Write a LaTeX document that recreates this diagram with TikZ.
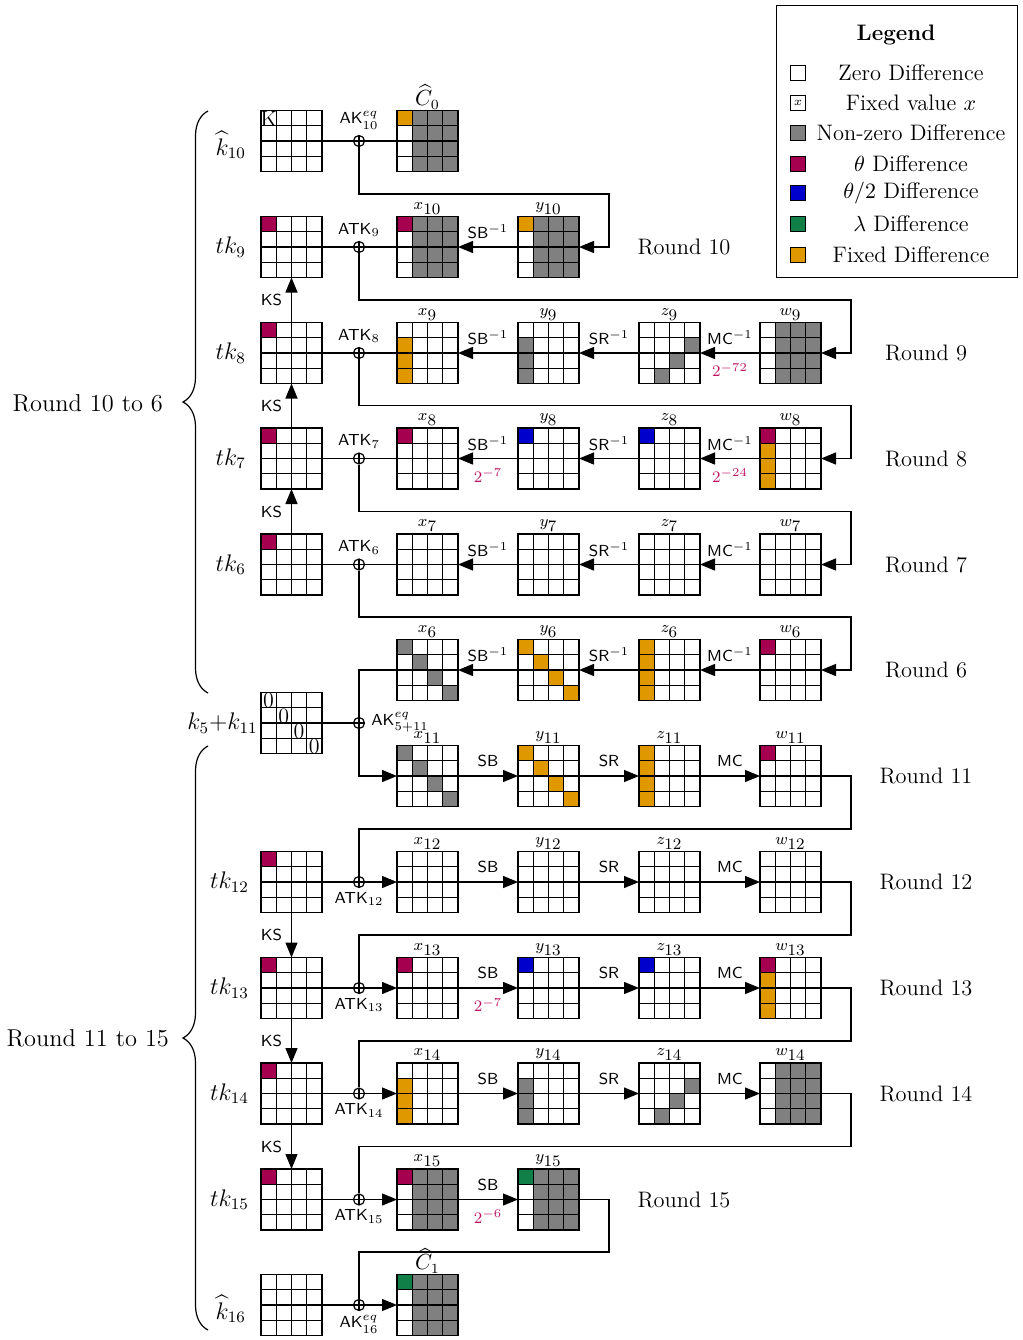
\documentclass[tikz,border=0pt]{standalone}
\usepackage{amsmath}
\usetikzlibrary{calc,arrows.meta,decorations.pathreplacing}
\definecolor{thetac}{RGB}{165,0,80}
\definecolor{halfc}{RGB}{0,0,205}
\definecolor{lamc}{RGB}{16,128,72}
\definecolor{fixc}{RGB}{224,152,0}
\definecolor{nzc}{RGB}{128,128,128}
\definecolor{probc}{RGB}{190,20,100}
\def\cs{15.25}
\newcommand\cellf[4]{\fill[#4] ($(#1.north west)+(#3*\cs,#2*\cs)$) rectangle ++(\cs,\cs);}
\newcommand\graycols[1]{\foreach \ri in {0,...,3}{\foreach \ci in {1,2,3}{\cellf{#1}{\ri}{\ci}{nzc}}}}
\newcommand\colz[2]{\foreach \ri in {1,2,3}{\cellf{#1}{\ri}{0}{#2}}}
\newcommand\colall[2]{\foreach \ri in {0,...,3}{\cellf{#1}{\ri}{0}{#2}}}
\newcommand\diagc[2]{\foreach \ri in {0,...,3}{\cellf{#1}{\ri}{\ri}{#2}}}
\newcommand\antid[1]{\cellf{#1}{1}{3}{nzc}\cellf{#1}{2}{2}{nzc}\cellf{#1}{3}{1}{nzc}}
\newcommand\gridon[1]{\foreach \gi in {0,...,4}{\draw[gridl] ($(#1.north west)+(\gi*\cs,0)$) -- ++(0,4*\cs); \draw[gridl] ($(#1.north west)+(0,\gi*\cs)$) -- ++(4*\cs,0);}}
\newcommand\cl[2]{$#1_{\textstyle #2}$}
\begin{document}
\begin{tikzpicture}[x=0.5pt,y=-0.5pt,
 matbox/.style={draw=none,fill=white,minimum size=30.5pt,inner sep=0pt,outer sep=0pt},
 gridl/.style={line width=0.65pt,black,line cap=rect},
 cline/.style={line width=0.65pt,black},
 arr/.style={cline,-{Triangle[length=7.5pt,width=6pt]}},
 xorc/.style={circle,draw,line width=0.6pt,minimum size=5.5pt,inner sep=0pt,fill=white,
   path picture={\draw[line width=0.6pt] (path picture bounding box.north) -- (path picture bounding box.south) (path picture bounding box.west) -- (path picture bounding box.east);}},
 oplab/.style={font=\fontsize{8}{9}\sffamily,inner sep=0pt},
 problab/.style={font=\fontsize{8.5}{10}\selectfont,text=probc,inner sep=0pt},
 collab/.style={font=\fontsize{8}{9}\selectfont,inner sep=1pt},
 hatlab/.style={font=\fontsize{10.5}{12}\selectfont,inner sep=0.5pt},
 keylab/.style={font=\fontsize{11.5}{13}\selectfont},
 rlab/.style={font=\fontsize{11.2}{13}\selectfont},
 blab/.style={font=\fontsize{12.2}{14}\selectfont},
 legsq/.style={draw,line width=0.5pt,minimum size=7.5pt,inner sep=0pt},
 brc/.style={decorate,decoration={brace,amplitude=12.5pt},line width=0.6pt},
]
\useasboundingbox (0,0) rectangle (1023,1340);
% ---------- matrices ----------
\node[matbox] (k10) at (291.5,141) {};
\node[matbox,label={[hatlab]above:$\widehat{C}_0$}] (C0) at (427.5,141) {};
\node[matbox] (tk9) at (291.5,247) {};
\node[matbox,label={[collab]above:\cl{x}{10}}] (x10) at (427.5,247) {};
\node[matbox,label={[collab]above:\cl{y}{10}}] (y10) at (548.5,247) {};
\node[matbox] (tk8) at (291.5,353) {};
\node[matbox,label={[collab]above:\cl{x}{9}}] (x9) at (427.5,353) {};
\node[matbox,label={[collab]above:\cl{y}{9}}] (y9) at (548.5,353) {};
\node[matbox,label={[collab]above:\cl{z}{9}}] (z9) at (669.5,353) {};
\node[matbox,label={[collab]above:\cl{w}{9}}] (w9) at (790.5,353) {};
\node[matbox] (tk7) at (291.5,458.5) {};
\node[matbox,label={[collab]above:\cl{x}{8}}] (x8) at (427.5,458.5) {};
\node[matbox,label={[collab]above:\cl{y}{8}}] (y8) at (548.5,458.5) {};
\node[matbox,label={[collab]above:\cl{z}{8}}] (z8) at (669.5,458.5) {};
\node[matbox,label={[collab]above:\cl{w}{8}}] (w8) at (790.5,458.5) {};
\node[matbox] (tk6) at (291.5,564.5) {};
\node[matbox,label={[collab]above:\cl{x}{7}}] (x7) at (427.5,564.5) {};
\node[matbox,label={[collab]above:\cl{y}{7}}] (y7) at (548.5,564.5) {};
\node[matbox,label={[collab]above:\cl{z}{7}}] (z7) at (669.5,564.5) {};
\node[matbox,label={[collab]above:\cl{w}{7}}] (w7) at (790.5,564.5) {};
\node[matbox,label={[collab]above:\cl{x}{6}}] (x6) at (427.5,670) {};
\node[matbox,label={[collab]above:\cl{y}{6}}] (y6) at (548.5,670) {};
\node[matbox,label={[collab]above:\cl{z}{6}}] (z6) at (669.5,670) {};
\node[matbox,label={[collab]above:\cl{w}{6}}] (w6) at (790.5,670) {};
\node[matbox] (k511) at (291.5,723) {};
\node[matbox,label={[collab]above:\cl{x}{11}}] (x11) at (427.5,776) {};
\node[matbox,label={[collab]above:\cl{y}{11}}] (y11) at (548.5,776) {};
\node[matbox,label={[collab]above:\cl{z}{11}}] (z11) at (669.5,776) {};
\node[matbox,label={[collab]above:\cl{w}{11}}] (w11) at (790.5,776) {};
\node[matbox] (tk12) at (291.5,882) {};
\node[matbox,label={[collab]above:\cl{x}{12}}] (x12) at (427.5,882) {};
\node[matbox,label={[collab]above:\cl{y}{12}}] (y12) at (548.5,882) {};
\node[matbox,label={[collab]above:\cl{z}{12}}] (z12) at (669.5,882) {};
\node[matbox,label={[collab]above:\cl{w}{12}}] (w12) at (790.5,882) {};
\node[matbox] (tk13) at (291.5,988) {};
\node[matbox,label={[collab]above:\cl{x}{13}}] (x13) at (427.5,988) {};
\node[matbox,label={[collab]above:\cl{y}{13}}] (y13) at (548.5,988) {};
\node[matbox,label={[collab]above:\cl{z}{13}}] (z13) at (669.5,988) {};
\node[matbox,label={[collab]above:\cl{w}{13}}] (w13) at (790.5,988) {};
\node[matbox] (tk14) at (291.5,1093.5) {};
\node[matbox,label={[collab]above:\cl{x}{14}}] (x14) at (427.5,1093.5) {};
\node[matbox,label={[collab]above:\cl{y}{14}}] (y14) at (548.5,1093.5) {};
\node[matbox,label={[collab]above:\cl{z}{14}}] (z14) at (669.5,1093.5) {};
\node[matbox,label={[collab]above:\cl{w}{14}}] (w14) at (790.5,1093.5) {};
\node[matbox] (tk15) at (291.5,1199.5) {};
\node[matbox,label={[collab]above:\cl{x}{15}}] (x15) at (427.5,1199.5) {};
\node[matbox,label={[collab]above:\cl{y}{15}}] (y15) at (548.5,1199.5) {};
\node[matbox] (k16) at (291.5,1305) {};
\node[matbox,label={[hatlab]above:$\widehat{C}_1$}] (C1) at (427.5,1305) {};
% ---------- cell colours ----------
\cellf{C0}{0}{0}{fixc}\graycols{C0}
\cellf{tk9}{0}{0}{thetac}
\cellf{x10}{0}{0}{thetac}\graycols{x10}
\cellf{y10}{0}{0}{fixc}\graycols{y10}
\cellf{tk8}{0}{0}{thetac}
\colz{x9}{fixc}
\colz{y9}{nzc}
\antid{z9}
\graycols{w9}
\cellf{tk7}{0}{0}{thetac}
\cellf{x8}{0}{0}{thetac}
\cellf{y8}{0}{0}{halfc}
\cellf{z8}{0}{0}{halfc}
\cellf{w8}{0}{0}{thetac}\colz{w8}{fixc}
\cellf{tk6}{0}{0}{thetac}
\diagc{x6}{nzc}
\diagc{y6}{fixc}
\colall{z6}{fixc}
\cellf{w6}{0}{0}{thetac}
\diagc{x11}{nzc}
\diagc{y11}{fixc}
\colall{z11}{fixc}
\cellf{w11}{0}{0}{thetac}
\cellf{tk12}{0}{0}{thetac}
\cellf{tk13}{0}{0}{thetac}
\cellf{x13}{0}{0}{thetac}
\cellf{y13}{0}{0}{halfc}
\cellf{z13}{0}{0}{halfc}
\cellf{w13}{0}{0}{thetac}\colz{w13}{fixc}
\cellf{tk14}{0}{0}{thetac}
\colz{x14}{fixc}
\colz{y14}{nzc}
\antid{z14}
\graycols{w14}
\cellf{tk15}{0}{0}{thetac}
\cellf{x15}{0}{0}{thetac}\graycols{x15}
\cellf{y15}{0}{0}{lamc}\graycols{y15}
\cellf{C1}{0}{0}{lamc}\graycols{C1}
% ---------- grids ----------
\foreach \m in {k10,C0,tk9,x10,y10,tk8,x9,y9,z9,w9,tk7,x8,y8,z8,w8,tk6,x7,y7,z7,w7,x6,y6,z6,w6,k511,x11,y11,z11,w11,tk12,x12,y12,z12,w12,tk13,x13,y13,z13,w13,tk14,x14,y14,z14,w14,tk15,x15,y15,k16,C1}{\gridon{\m}}
% fixed values
\node[inner sep=0pt,font=\fontsize{11}{11}\selectfont] (fK) at ($(k10.north west)+(0.5*\cs,0.55*\cs)$) {K};
\foreach \ri in {0,...,3}{\node[inner sep=0pt,font=\fontsize{11}{11}\selectfont] (fz\ri) at ($(k511.north west)+(\ri*\cs+0.5*\cs,\ri*\cs+0.55*\cs)$) {0};}
% ---------- xor nodes ----------
\node[xorc] (xor0) at (359,141) {};
\node[xorc] (xor1) at (359,247) {};
\node[xorc] (xor2) at (359,353) {};
\node[xorc] (xor3) at (359,458.5) {};
\node[xorc] (xor4) at (359,564.5) {};
\node[xorc] (xor55) at (359,723) {};
\node[xorc] (xor7) at (359,882) {};
\node[xorc] (xor8) at (359,988) {};
\node[xorc] (xor9) at (359,1093.5) {};
\node[xorc] (xor10) at (359,1199.5) {};
\node[xorc] (xor11) at (359,1305) {};
% xor labels
\node[oplab] (ak10) at ($(xor0)+(0,-21)$) {AK$^{eq}_{10}$};
\node[oplab] (atk9) at ($(xor1)+(0,-17)$) {ATK$_{9}$};
\node[oplab] (atk8) at ($(xor2)+(0,-17)$) {ATK$_{8}$};
\node[oplab] (atk7) at ($(xor3)+(0,-17)$) {ATK$_{7}$};
\node[oplab] (atk6) at ($(xor4)+(0,-17)$) {ATK$_{6}$};
\node[oplab,anchor=west] (ak511) at ($(xor55)+(12,-1)$) {AK$^{eq}_{5+11}$};
\node[oplab] (atk12) at ($(xor7)+(0,17)$) {ATK$_{12}$};
\node[oplab] (atk13) at ($(xor8)+(0,17)$) {ATK$_{13}$};
\node[oplab] (atk14) at ($(xor9)+(0,17)$) {ATK$_{14}$};
\node[oplab] (atk15) at ($(xor10)+(0,17)$) {ATK$_{15}$};
\node[oplab] (ak16) at ($(xor11)+(0,19)$) {AK$^{eq}_{16}$};
% ---------- connectors: backward part ----------
\draw[cline] (k10) -- (xor0) -- (C0);
\coordinate (lp0) at (609,194);
\draw[arr] (xor0) |- (lp0) |- (y10);
\draw[arr] (y10) -- node[oplab,midway,yshift=7.5pt]{SB$^{-1}$} (x10);
\draw[cline] (x10) -- (xor1) -- (tk9);
\coordinate (lp1) at (851,300);
\draw[arr] (xor1) |- (lp1) |- (w9);
\draw[arr] (w9) -- node[oplab,midway,yshift=7.5pt]{MC$^{-1}$} node[problab,midway,yshift=-8.5pt]{$2^{-72}$} (z9);
\draw[arr] (z9) -- node[oplab,midway,yshift=7.5pt]{SR$^{-1}$} (y9);
\draw[arr] (y9) -- node[oplab,midway,yshift=7.5pt]{SB$^{-1}$} (x9);
\draw[cline] (x9) -- (xor2) -- (tk8);
\coordinate (lp2) at (851,405.5);
\draw[arr] (xor2) |- (lp2) |- (w8);
\draw[arr] (w8) -- node[oplab,midway,yshift=7.5pt]{MC$^{-1}$} node[problab,midway,yshift=-8.5pt]{$2^{-24}$} (z8);
\draw[arr] (z8) -- node[oplab,midway,yshift=7.5pt]{SR$^{-1}$} (y8);
\draw[arr] (y8) -- node[oplab,midway,yshift=7.5pt]{SB$^{-1}$} node[problab,midway,yshift=-8.5pt]{$2^{-7}$} (x8);
\draw[cline] (x8) -- (xor3) -- (tk7);
\coordinate (lp3) at (851,511.5);
\draw[arr] (xor3) |- (lp3) |- (w7);
\draw[arr] (w7) -- node[oplab,midway,yshift=7.5pt]{MC$^{-1}$} (z7);
\draw[arr] (z7) -- node[oplab,midway,yshift=7.5pt]{SR$^{-1}$} (y7);
\draw[arr] (y7) -- node[oplab,midway,yshift=7.5pt]{SB$^{-1}$} (x7);
\draw[cline] (x7) -- (xor4) -- (tk6);
\coordinate (lp4) at (851,617);
\draw[arr] (xor4) |- (lp4) |- (w6);
\draw[arr] (w6) -- node[oplab,midway,yshift=7.5pt]{MC$^{-1}$} (z6);
\draw[arr] (z6) -- node[oplab,midway,yshift=7.5pt]{SR$^{-1}$} (y6);
\draw[arr] (y6) -- node[oplab,midway,yshift=7.5pt]{SB$^{-1}$} (x6);
\coordinate (j5) at (359,670);
\coordinate (j6) at (359,776);
\draw[cline] (x6) -- (j5) -- (xor55);
\draw[cline] (k511) -- (xor55);
\draw[arr] (xor55) -- (j6) -- (x11);
% KS backward
\draw[arr] (tk8) -- node[oplab,midway,xshift=-10pt]{KS} (tk9);
\draw[arr] (tk7) -- node[oplab,midway,xshift=-10pt]{KS} (tk8);
\draw[arr] (tk6) -- node[oplab,midway,xshift=-10pt]{KS} (tk7);
% ---------- connectors: forward part ----------
\draw[arr] (x11) -- node[oplab,midway,yshift=7.5pt]{SB} (y11);
\draw[arr] (y11) -- node[oplab,midway,yshift=7.5pt]{SR} (z11);
\draw[arr] (z11) -- node[oplab,midway,yshift=7.5pt]{MC} (w11);
\coordinate (fl6) at (851,829);
\draw[cline] (w11) -| (fl6) -| (xor7);
\draw[cline] (tk12) -- (xor7);
\draw[arr] (xor7) -- (x12);
\draw[arr] (x12) -- node[oplab,midway,yshift=7.5pt]{SB} (y12);
\draw[arr] (y12) -- node[oplab,midway,yshift=7.5pt]{SR} (z12);
\draw[arr] (z12) -- node[oplab,midway,yshift=7.5pt]{MC} (w12);
\coordinate (fl7) at (851,935);
\draw[cline] (w12) -| (fl7) -| (xor8);
\draw[cline] (tk13) -- (xor8);
\draw[arr] (xor8) -- (x13);
\draw[arr] (x13) -- node[oplab,midway,yshift=7.5pt]{SB} node[problab,midway,yshift=-8.5pt]{$2^{-7}$} (y13);
\draw[arr] (y13) -- node[oplab,midway,yshift=7.5pt]{SR} (z13);
\draw[arr] (z13) -- node[oplab,midway,yshift=7.5pt]{MC} (w13);
\coordinate (fl8) at (851,1041);
\draw[cline] (w13) -| (fl8) -| (xor9);
\draw[cline] (tk14) -- (xor9);
\draw[arr] (xor9) -- (x14);
\draw[arr] (x14) -- node[oplab,midway,yshift=7.5pt]{SB} (y14);
\draw[arr] (y14) -- node[oplab,midway,yshift=7.5pt]{SR} (z14);
\draw[arr] (z14) -- node[oplab,midway,yshift=7.5pt]{MC} (w14);
\coordinate (fl9) at (851,1146.5);
\draw[cline] (w14) -| (fl9) -| (xor10);
\draw[cline] (tk15) -- (xor10);
\draw[arr] (xor10) -- (x15);
\draw[arr] (x15) -- node[oplab,midway,yshift=7.5pt]{SB} node[problab,midway,yshift=-8.5pt]{$2^{-6}$} (y15);
\coordinate (fl10) at (609,1252);
\draw[cline] (y15) -| (fl10) -| (xor11);
\draw[cline] (k16) -- (xor11);
\draw[arr] (xor11) -- (C1);
% KS forward
\draw[arr] (tk12) -- node[oplab,midway,xshift=-10pt]{KS} (tk13);
\draw[arr] (tk13) -- node[oplab,midway,xshift=-10pt]{KS} (tk14);
\draw[arr] (tk14) -- node[oplab,midway,xshift=-10pt]{KS} (tk15);
% ---------- key labels ----------
\node[keylab,anchor=east] (lk10) at (253,145) {$\widehat{k}_{10}$};
\node[keylab,anchor=east] (ltk9) at (253,247) {$tk_{9}$};
\node[keylab,anchor=east] (ltk8) at (253,353) {$tk_{8}$};
\node[keylab,anchor=east] (ltk7) at (253,458.5) {$tk_{7}$};
\node[keylab,anchor=east] (ltk6) at (253,564.5) {$tk_{6}$};
\node[keylab,anchor=east,inner sep=1pt] (lk511) at (260,723) {$k_5{+}k_{11}$};
\node[keylab,anchor=east] (ltk12) at (256,882) {$tk_{12}$};
\node[keylab,anchor=east] (ltk13) at (256,988) {$tk_{13}$};
\node[keylab,anchor=east] (ltk14) at (256,1093.5) {$tk_{14}$};
\node[keylab,anchor=east] (ltk15) at (256,1199.5) {$tk_{15}$};
\node[keylab,anchor=east] (lk16) at (253,1309) {$\widehat{k}_{16}$};
% ---------- round labels ----------
\node[rlab] (r10) at (684,247) {Round 10};
\node[rlab] (r9) at (926,353) {Round 9};
\node[rlab] (r8) at (926,458.5) {Round 8};
\node[rlab] (r7) at (926,564.5) {Round 7};
\node[rlab] (r6) at (926,670) {Round 6};
\node[rlab] (r11) at (926,776) {Round 11};
\node[rlab] (r12) at (926,882) {Round 12};
\node[rlab] (r13) at (926,988) {Round 13};
\node[rlab] (r14) at (926,1093.5) {Round 14};
\node[rlab] (r15) at (684,1199.5) {Round 15};
% ---------- braces ----------
\draw[brc] (208,693) -- (208,111);
\draw[brc] (208,1330) -- (208,746);
\node[blab,anchor=east] (b1) at (170,403) {Round 10 to 6};
\node[blab,anchor=east] (b2) at (176,1038) {Round 11 to 15};
% ---------- legend ----------
\draw[line width=0.5pt] (776,5) rectangle (1017,277);
\node[rlab,font=\fontsize{11.2}{13}\selectfont\bfseries] (lgt) at (896,35) {Legend};
\node[legsq,fill=white] (ls1) at (798,73) {};
\node[legsq,fill=white,font=\fontsize{6}{6}\selectfont] (ls2) at (798,103) {$x$};
\node[legsq,fill=nzc] (ls3) at (798,133) {};
\node[legsq,fill=thetac] (ls4) at (798,164) {};
\node[legsq,fill=halfc] (ls5) at (798,193) {};
\node[legsq,fill=lamc] (ls6) at (798,224) {};
\node[legsq,fill=fixc] (ls7) at (798,255) {};
\node[rlab] (lt1) at (911,73) {Zero Difference};
\node[rlab] (lt2) at (911,103) {Fixed value $x$};
\node[rlab] (lt3) at (911,133) {Non-zero Difference};
\node[rlab] (lt4) at (911,164) {$\theta$ Difference};
\node[rlab] (lt5) at (911,193) {$\theta/2$ Difference};
\node[rlab] (lt6) at (911,224) {$\lambda$ Difference};
\node[rlab] (lt7) at (911,255) {Fixed Difference};
\end{tikzpicture}
\end{document}
